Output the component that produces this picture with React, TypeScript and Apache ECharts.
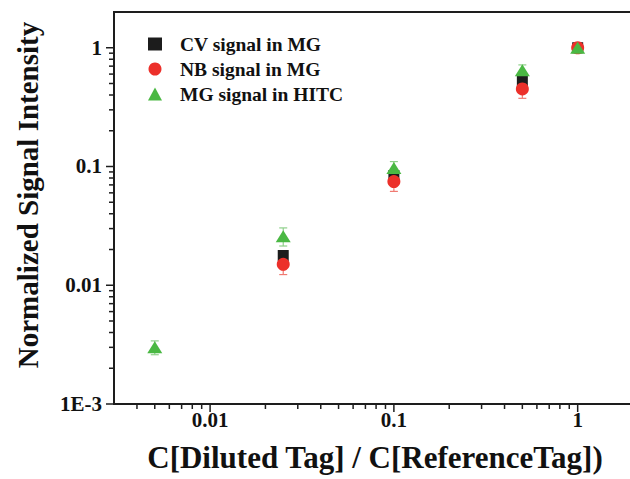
import React, { useEffect, useRef } from "react";
import * as echarts from "echarts";

// ---- data ----
const cvName = "CV signal in MG";
const cvX = [0.025, 0.1, 0.5, 1];
const cvY = [0.0178, 0.084, 0.52, 1.0];
const cvErr = [0.0015, 0.006, 0.04, 0.05];

const nbName = "NB signal in MG";
const nbX = [0.025, 0.1, 0.5, 1];
const nbY = [0.015, 0.0747, 0.45, 1.0];
const nbErr = [0.0027, 0.013, 0.075, 0.1];

const mgName = "MG signal in HITC";
const mgX = [0.005, 0.025, 0.1, 0.5, 1];
const mgY = [0.003, 0.0259, 0.097, 0.647, 1.0];
const mgErr = [0.0004, 0.0045, 0.013, 0.07, 0.06];

const X_MIN = 0.003;
const X_MAX = 2;
const Y_MIN = 0.001;
const Y_MAX = 2;

const xMajorTicks = [0.01, 0.1, 1];
const yMajorTicks = [0.001, 0.01, 0.1, 1];
const xLabels: Record<string, string> = { "-2": "0.01", "-1": "0.1", "0": "1" };
const yLabels: Record<string, string> = { "-3": "1E-3", "-2": "0.01", "-1": "0.1", "0": "1" };
const tickDecades = [0.001, 0.01, 0.1, 1];
const tickMultipliers = [2, 3, 4, 5, 6, 7, 8, 9];

const xTitle = "C[Diluted Tag] / C[ReferenceTag])";
const yTitle = "Normalized Signal Intensity";

const FONT = "'Liberation Serif', 'Times New Roman', serif";
const AXIS_COLOR = "#1e1e1e";

function minorTicks(lo: number, hi: number) {
  const out: number[] = [];
  tickDecades.forEach((d) =>
    tickMultipliers.forEach((m) => {
      const v = +(d * m).toPrecision(6);
      if (v > lo * 1.0001 && v < hi * 0.9999) out.push(v);
    })
  );
  return out;
}

function labelFor(map: Record<string, string>) {
  return (v: number) => {
    const l = Math.log10(v);
    const r = Math.round(l);
    if (Math.abs(l - r) < 1e-6) return map[String(r)] ?? "";
    return "";
  };
}

function errorSeries(xs: number[], ys: number[], es: number[], color: string) {
  return {
    type: "custom",
    silent: true,
    clip: false,
    z: 2,
    data: xs.map((x, i) => [x, ys[i], es[i]]),
    encode: { x: 0, y: 1 },
    renderItem: (_p: any, api: any) => {
      const x = api.value(0);
      const y = api.value(1);
      const e = api.value(2);
      const t = api.coord([x, y + e]);
      const b = api.coord([x, y - e]);
      const cap = 4;
      const style = { stroke: color, lineWidth: 1.2 };
      return {
        type: "group",
        children: [
          { type: "line", shape: { x1: t[0], y1: t[1], x2: b[0], y2: b[1] }, style },
          { type: "line", shape: { x1: t[0] - cap, y1: t[1], x2: t[0] + cap, y2: t[1] }, style },
          { type: "line", shape: { x1: b[0] - cap, y1: b[1], x2: b[0] + cap, y2: b[1] }, style },
        ],
      };
    },
  };
}

export default function App() {
  const ref = useRef<HTMLDivElement>(null);
  useEffect(() => {
    if (!ref.current) return;
    const chart = echarts.init(ref.current, null, { renderer: "svg" });

    const xTickData = [
      ...xMajorTicks.map((v) => [v, Y_MIN, 1]),
      ...minorTicks(X_MIN, X_MAX).map((v) => [v, Y_MIN, 0]),
    ];
    const yTickData = [
      ...yMajorTicks.map((v) => [X_MIN, v, 1]),
      ...minorTicks(Y_MIN, Y_MAX).map((v) => [X_MIN, v, 0]),
    ];

    const option: any = {
      animation: false,
      backgroundColor: "#ffffff",
      grid: {
        left: 114,
        top: 12,
        width: 519,
        height: 392,
        outerBoundsMode: "none",
        containLabel: false,
        show: true,
        borderColor: AXIS_COLOR,
        borderWidth: 2,
      },
      xAxis: {
        type: "log",
        logBase: 10,
        min: X_MIN,
        max: X_MAX,
        axisLine: { show: true, lineStyle: { color: AXIS_COLOR, width: 1.5 } },
        axisTick: { show: false },
        splitLine: { show: false },
        axisLabel: {
          formatter: labelFor(xLabels),
          color: "#111",
          fontFamily: FONT,
          fontWeight: "bold",
          fontSize: 21,
          margin: 5,
          showMinLabel: true,
          showMaxLabel: true,
        },
      },
      yAxis: {
        type: "log",
        logBase: 10,
        min: Y_MIN,
        max: Y_MAX,
        axisLine: { show: true, lineStyle: { color: AXIS_COLOR, width: 1.5 } },
        axisTick: { show: false },
        splitLine: { show: false },
        axisLabel: {
          formatter: labelFor(yLabels),
          color: "#111",
          fontFamily: FONT,
          fontWeight: "bold",
          fontSize: 21,
          margin: 12,
        },
      },
      legend: {
        orient: "vertical",
        left: 143,
        top: 29,
        itemWidth: 14,
        itemHeight: 13,
        itemGap: 5,
        data: [cvName, nbName, mgName],
        textStyle: {
          fontFamily: FONT,
          fontWeight: "bold",
          fontSize: 19.5,
          lineHeight: 20,
          color: "#111",
          padding: [0, 0, 0, 13],
        },
      },
      graphic: [
        {
          type: "text",
          x: 375,
          y: 457,
          style: {
            text: xTitle,
            font: `bold 31px ${FONT}`,
            fill: "#111",
            align: "center",
            verticalAlign: "middle",
          },
        },
        {
          type: "text",
          x: 28,
          y: 195,
          rotation: Math.PI / 2,
          style: {
            text: yTitle,
            font: `bold 29px ${FONT}`,
            fill: "#111",
            align: "center",
            verticalAlign: "middle",
          },
        },
      ],
      series: [
        {
          type: "custom",
          silent: true,
          clip: false,
          data: xTickData,
          encode: { x: 0, y: 1 },
          renderItem: (_p: any, api: any) => {
            const p = api.coord([api.value(0), api.value(1)]);
            const len = api.value(2) ? 8 : 5;
            return {
              type: "line",
              shape: { x1: p[0], y1: p[1], x2: p[0], y2: p[1] + len },
              style: { stroke: AXIS_COLOR, lineWidth: 1.5 },
            };
          },
        },
        {
          type: "custom",
          silent: true,
          clip: false,
          data: yTickData,
          encode: { x: 0, y: 1 },
          renderItem: (_p: any, api: any) => {
            const p = api.coord([api.value(0), api.value(1)]);
            const len = api.value(2) ? 8 : 5;
            return {
              type: "line",
              shape: { x1: p[0] - len, y1: p[1], x2: p[0], y2: p[1] },
              style: { stroke: AXIS_COLOR, lineWidth: 1.5 },
            };
          },
        },
        errorSeries(cvX, cvY, cvErr, "#555555"),
        errorSeries(nbX, nbY, nbErr, "#f07a72"),
        errorSeries(mgX, mgY, mgErr, "#8fd08a"),
        {
          name: cvName,
          type: "scatter",
          z: 3,
          symbol: "rect",
          symbolSize: 11,
          itemStyle: { color: "#1c1c1c", opacity: 1 },
          data: cvX.map((x, i) => [x, cvY[i]]),
        },
        {
          name: nbName,
          type: "scatter",
          z: 4,
          symbol: "circle",
          symbolSize: 13,
          itemStyle: { color: "#ec302a", opacity: 1 },
          data: nbX.map((x, i) => [x, nbY[i]]),
        },
        {
          name: mgName,
          type: "scatter",
          z: 5,
          symbol: "triangle",
          symbolSize: [15, 12],
          itemStyle: { color: "#4ab843", opacity: 1 },
          data: mgX.map((x, i) => [x, mgY[i]]),
        },
      ],
    };
    chart.setOption(option);
    return () => chart.dispose();
  }, []);

  return (
    <div
      ref={ref}
      style={{ position: "fixed", left: 0, top: 0, width: 630, height: 479 }}
    />
  );
}
